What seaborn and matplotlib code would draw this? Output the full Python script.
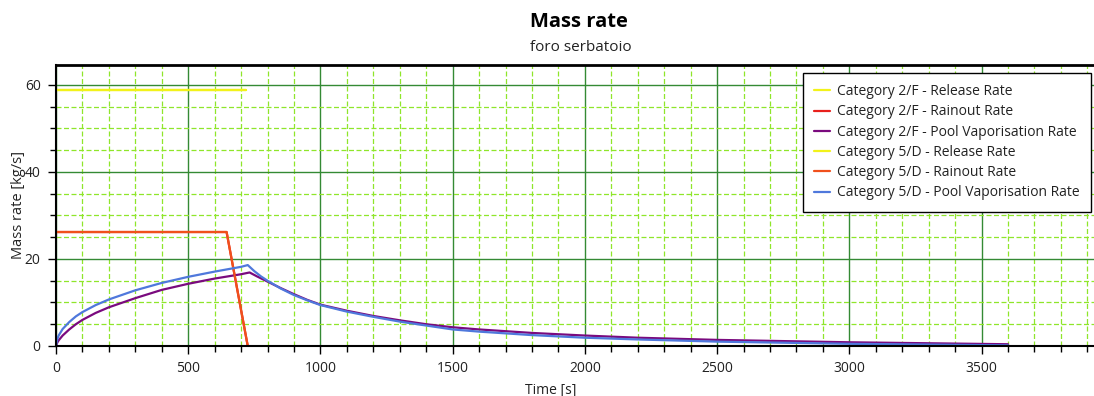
import matplotlib
matplotlib.use("Agg")
import matplotlib.pyplot as plt
from matplotlib.ticker import MultipleLocator
import seaborn as sns
import pandas as pd

# --- series data (time in s, mass rate in kg/s) ---
release_t = [0, 720]
release_2f = [58.8, 58.8]
release_5d = [58.8, 58.8]

rainout_t = [0, 645, 725]
rainout_2f = [26.2, 26.2, 0.0]
rainout_5d = [26.2, 26.2, 0.0]

pool_2f_t = [0, 5, 10, 25, 50, 75, 100, 150, 200, 300, 400, 500, 600, 700, 732,
             760, 800, 850, 900, 950, 1000, 1100, 1200, 1300, 1400, 1500, 1600,
             1800, 2000, 2200, 2500, 3000, 3600]
pool_2f = [0.0, 0.8, 1.3, 2.4, 3.8, 5.0, 6.0, 7.6, 8.9, 11.0, 12.9, 14.3, 15.5, 16.5, 16.9,
           16.0, 14.8, 13.3, 11.9, 10.6, 9.5, 8.1, 6.9, 5.9, 5.0, 4.3, 3.8,
           3.0, 2.4, 1.9, 1.4, 0.85, 0.4]

pool_5d_t = [0, 5, 10, 25, 50, 75, 100, 150, 200, 300, 400, 500, 600, 700, 725,
             750, 775, 800, 850, 900, 950, 1000, 1100, 1200, 1300, 1400, 1500, 1600,
             1800, 2000, 2200, 2500, 3000, 3600]
pool_5d = [0.0, 1.6, 2.4, 3.9, 5.5, 6.8, 7.8, 9.4, 10.7, 12.8, 14.5, 15.9, 17.1, 18.2, 18.6,
           17.2, 16.0, 15.0, 13.2, 11.7, 10.5, 9.4, 7.9, 6.7, 5.6, 4.7, 3.8, 3.3,
           2.5, 1.9, 1.5, 1.0, 0.5, 0.15]

series = [
    ("Category 2/F - Release Rate", release_t, release_2f, "#f2f21a"),
    ("Category 2/F - Rainout Rate", rainout_t, rainout_2f, "#e8201c"),
    ("Category 2/F - Pool Vaporisation Rate", pool_2f_t, pool_2f, "#7a0a7e"),
    ("Category 5/D - Release Rate", release_t, release_5d, "#f2f21a"),
    ("Category 5/D - Rainout Rate", rainout_t, rainout_5d, "#f0501c"),
    ("Category 5/D - Pool Vaporisation Rate", pool_5d_t, pool_5d, "#4f78dc"),
]

sns.set_theme(style="white")
plt.rcParams["font.family"] = ["Open Sans", "DejaVu Sans"]

fig = plt.figure(figsize=(10.94, 3.96), dpi=100)
ax = fig.add_axes([0.0512, 0.1263, 0.9488, 0.7096])

for name, t, v, col in series:
    df = pd.DataFrame({"t": t, "v": v})
    sns.lineplot(data=df, x="t", y="v", ax=ax, color=col, linewidth=1.6,
                 label=name, sort=False, estimator=None)

ax.set_xlim(0, 3925)
ax.set_ylim(0, 64.6)

ax.xaxis.set_major_locator(MultipleLocator(500))
ax.xaxis.set_minor_locator(MultipleLocator(100))
ax.yaxis.set_major_locator(MultipleLocator(20))
ax.yaxis.set_minor_locator(MultipleLocator(5))

ax.grid(which="minor", color="#8fe62a", linestyle=(0, (4, 2)), linewidth=0.9)
ax.grid(which="major", color="#348a34", linestyle="-", linewidth=1.0)
ax.set_axisbelow(True)

ax.tick_params(axis="both", which="major", direction="out", length=6, width=1,
               color="black", labelsize=10, labelcolor="#222222", pad=5)
ax.tick_params(axis="both", which="minor", direction="out", length=4, width=1,
               color="black")
ax.tick_params(axis="x", which="both", bottom=True)
ax.tick_params(axis="y", which="both", left=True)

for side in ("left", "bottom"):
    ax.spines[side].set_color("black")
    ax.spines[side].set_linewidth(1.5)
ax.spines["top"].set_color("black")
ax.spines["top"].set_linewidth(2)
ax.spines["right"].set_visible(False)

ax.set_xlabel("Time [s]", fontsize=10, color="#222222")
ax.set_ylabel("Mass rate [kg/s]", fontsize=10.5, color="#222222")
ax.xaxis.set_label_coords(0.477, -0.13)
ax.yaxis.set_label_coords(-0.029, 0.5)

fig.text(0.529, 0.945, "Mass rate", ha="center", va="center",
         fontsize=14.5, fontweight="bold", color="black")
fig.text(0.531, 0.881, "foro serbatoio", ha="center", va="center",
         fontsize=11, color="#222222")

leg = ax.legend(loc="upper left", bbox_to_anchor=(0.7197, 0.9715),
                borderaxespad=0, frameon=True, fancybox=False, fontsize=10,
                handlelength=1.15, handletextpad=0.5, labelspacing=0.38,
                borderpad=0.8, facecolor="white", framealpha=1)
leg.get_frame().set_edgecolor("black")
leg.get_frame().set_linewidth(1.0)
for txt in leg.get_texts():
    txt.set_color("#222222")

fig.savefig("out.png", dpi=100)
